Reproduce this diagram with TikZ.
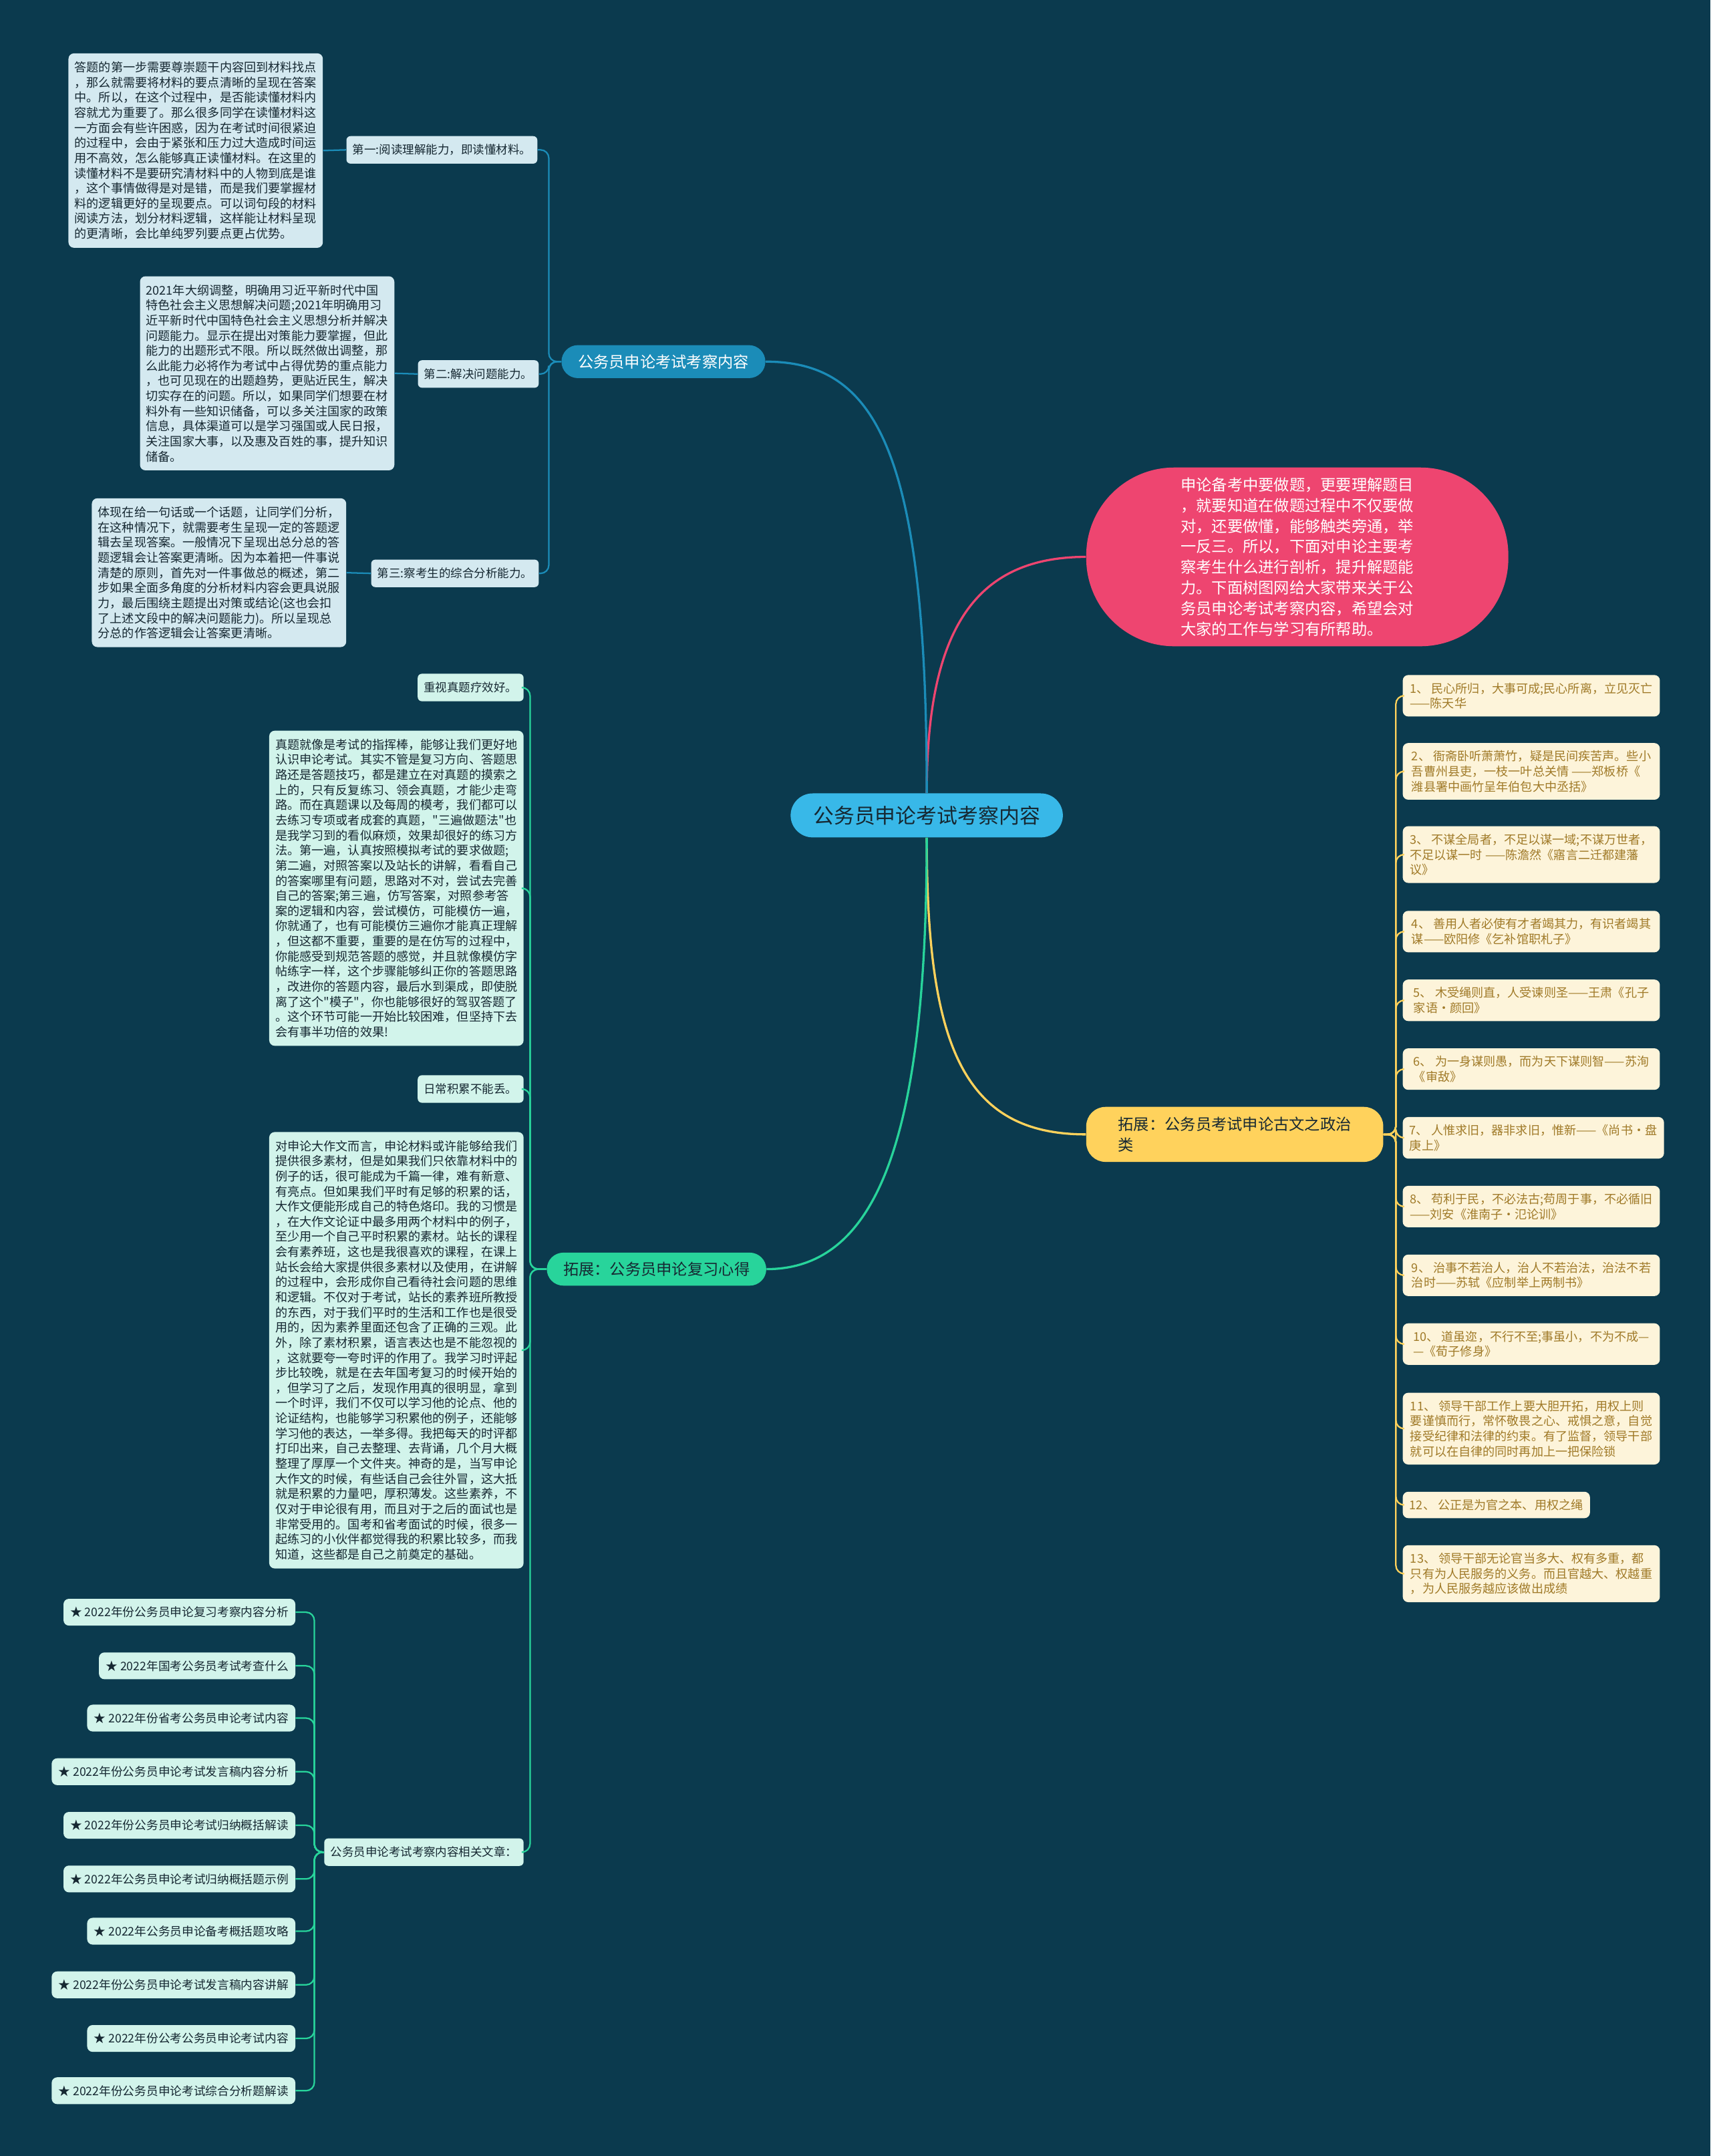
\documentclass[tikz,border=0pt]{standalone}
\usepackage{fontspec}
\usepackage{tikz}
\newfontfamily\cjk{Noto Sans CJK SC}
\definecolor{cBg}{RGB}{11,58,78}
\definecolor{cRoot}{RGB}{56,184,232}
\definecolor{cBlue}{RGB}{27,140,184}
\definecolor{cPink}{RGB}{238,69,112}
\definecolor{cGold}{RGB}{255,210,92}
\definecolor{cGreen}{RGB}{40,212,155}
\definecolor{cNoteA}{RGB}{212,233,240}
\definecolor{cNoteG}{RGB}{210,244,235}
\definecolor{cNoteY}{RGB}{253,244,218}
\definecolor{cInk}{RGB}{22,40,50}
\definecolor{cBrown}{RGB}{160,122,40}

\begin{document}
\begin{tikzpicture}[x=1pt, y=-1pt,
  every node/.style={font=\cjk, text=cInk, inner sep=0pt},
  root/.style={fill=cRoot, rounded corners=16pt, minimum width=198pt, minimum height=32pt,
    font=\cjk\fontsize{15}{18}\selectfont},
  branch/.style={fill=#1, rounded corners=12pt, minimum height=24pt, inner xsep=12pt,
    font=\cjk\fontsize{11.3}{15}\selectfont},
  tag/.style={fill=#1, rounded corners=3pt, anchor=east, inner xsep=4.5pt, minimum height=20pt,
    font=\cjk\fontsize{8.5}{10}\selectfont},
  note/.style={fill=#1, rounded corners=4pt, anchor=east, align=left, inner xsep=4.5pt,
    inner ysep=6pt, font=\cjk\fontsize{8.8}{11}\selectfont},
  quote/.style={fill=cNoteY, text=cBrown, rounded corners=4pt, anchor=west, align=left,
    inner xsep=5pt, inner ysep=5.5pt, font=\cjk\fontsize{8.8}{11}\selectfont},
  link/.style={fill=cNoteG, rounded corners=4pt, anchor=east, inner xsep=5pt,
    minimum height=19.5pt, font=\cjk\fontsize{8.6}{11}\selectfont},
  lnMain/.style={draw=#1, line width=1.6pt},
  lnSub/.style={draw=#1, line width=1.1pt, rounded corners=6pt}]
  \useasboundingbox (0,0) rectangle (1244,1568);
  \fill[cBg] (0,0) rectangle (1244,1568);

  % root
  \node[root] (ctr) at (674,593) {公务员申论考试考察内容};

  % intro (pink)
  \node[fill=cPink, text=white, rounded corners=64pt, minimum width=307pt, minimum height=130pt,
    align=left, font=\cjk\fontsize{11.3}{15}\selectfont] (intro) at (943.5,405)
    {申论备考中要做题，更要理解题目\\，就要知道在做题过程中不仅要做\\对，还要做懂，能够触类旁通，举\\一反三。所以，下面对申论主要考\\察考生什么进行剖析，提升解题能\\力。下面树图网给大家带来关于公\\务员申论考试考察内容，希望会对\\大家的工作与学习有所帮助。};
  \draw[lnMain=cPink] (ctr.north) .. controls +(0,-120) and +(-80,0) .. (intro.west);

  % exam content (blue)
  \node[branch=cBlue, text=white] (exam) at (482.5,263) {公务员申论考试考察内容};
  \draw[lnMain=cBlue] (ctr.north) .. controls +(0,-250) and +(80,0) .. (exam.east);
  \node[tag=cNoteA] (a1) at (391,109) {第一:阅读理解能力，即读懂材料。};
  \node[tag=cNoteA] (a2) at (392,272) {第二:解决问题能力。};
  \node[tag=cNoteA] (a3) at (392,417) {第三:察考生的综合分析能力。};
  \foreach \k in {a1,a2,a3}{
    \draw[lnSub=cBlue] (exam.west) -- ++(-9,0) |- (\k.east);
  }
  \node[note=cNoteA] (n1) at (235,109.5)
    {答题的第一步需要尊崇题干内容回到材料找点\\，那么就需要将材料的要点清晰的呈现在答案\\中。所以，在这个过程中，是否能读懂材料内\\容就尤为重要了。那么很多同学在读懂材料这\\一方面会有些许困惑，因为在考试时间很紧迫\\的过程中，会由于紧张和压力过大造成时间运\\用不高效，怎么能够真正读懂材料。在这里的\\读懂材料不是要研究清材料中的人物到底是谁\\，这个事情做得是对是错，而是我们要掌握材\\料的逻辑更好的呈现要点。可以词句段的材料\\阅读方法，划分材料逻辑，这样能让材料呈现\\的更清晰，会比单纯罗列要点更占优势。};
  \node[note=cNoteA] (n2) at (287,271.5)
    {2021年大纲调整，明确用习近平新时代中国\\特色社会主义思想解决问题;2021年明确用习\\近平新时代中国特色社会主义思想分析并解决\\问题能力。显示在提出对策能力要掌握，但此\\能力的出题形式不限。所以既然做出调整，那\\么此能力必将作为考试中占得优势的重点能力\\，也可见现在的出题趋势，更贴近民生，解决\\切实存在的问题。所以，如果同学们想要在材\\料外有一些知识储备，可以多关注国家的政策\\信息，具体渠道可以是学习强国或人民日报，\\关注国家大事，以及惠及百姓的事，提升知识\\储备。};
  \node[note=cNoteA] (n3) at (252,416.5)
    {体现在给一句话或一个话题，让同学们分析，\\在这种情况下，就需要考生呈现一定的答题逻\\辑去呈现答案。一般情况下呈现出总分总的答\\题逻辑会让答案更清晰。因为本着把一件事说\\清楚的原则，首先对一件事做总的概述，第二\\步如果全面多角度的分析材料内容会更具说服\\力，最后围绕主题提出对策或结论(这也会扣\\了上述文段中的解决问题能力)。所以呈现总\\分总的作答逻辑会让答案更清晰。};
  \draw[lnSub=cBlue] (a1.west) -- (n1.east);
  \draw[lnSub=cBlue] (a2.west) -- (n2.east);
  \draw[lnSub=cBlue] (a3.west) -- (n3.east);

  % ancient quotes (gold)
  \node[branch=cGold, rounded corners=14pt, minimum width=216pt, minimum height=40pt,
    align=left] (ancient) at (898,825) {拓展：公务员考试申论古文之政治\\类};
  \draw[lnMain=cGold] (ctr.south) .. controls +(0,150) and +(-90,0) .. (ancient.west);
  \foreach \y/\w/\txt [count=\i] in {
    506/187/{1、 民心所归，大事可成;民心所离，立见灭亡\\ ——陈天华},
    561/187/{2、 衙斋卧听萧萧竹，疑是民间疾苦声。些小\\吾曹州县吏，一枝一叶总关情 ——郑板桥《\\潍县署中画竹呈年伯包大中丞括》},
    621.5/187/{3、 不谋全局者，不足以谋一域;不谋万世者，\\不足以谋一时 ——陈澹然《寤言二迁都建藩\\议》},
    677.5/187/{4、 善用人者必使有才者竭其力，有识者竭其\\谋——欧阳修《乞补馆职札子》},
    727.5/187/{5、 木受绳则直，人受谏则圣——王肃《孔子\\家语·颜回》},
    777.5/187/{6、 为一身谋则愚，而为天下谋则智——苏洵\\《审敌》},
    827.5/187/{7、 人惟求旧，器非求旧，惟新——《尚书·盘\\庚上》},
    877.5/187/{8、 苟利于民，不必法古;苟周于事，不必循旧\\——刘安《淮南子·氾论训》},
    927.5/187/{9、 治事不若治人，治人不若治法，治法不若\\治时——苏轼《应制举上两制书》},
    977.5/187/{10、 道虽迩，不行不至;事虽小，不为不成—\\—《荀子修身》},
    1039/187/{11、 领导干部工作上要大胆开拓，用权上则\\要谨慎而行，常怀敬畏之心、戒惧之意，自觉\\接受纪律和法律的约束。有了监督，领导干部\\就可以在自律的同时再加上一把保险锁},
    1094.5/0/{12、 公正是为官之本、用权之绳},
    1144.5/187/{13、 领导干部无论官当多大、权有多重，都\\只有为人民服务的义务。而且官越大、权越重\\，为人民服务越应该做出成绩}}{
    \node[quote, minimum width=\w pt] (q\i) at (1020,\y) {\txt};
    \draw[lnSub=cGold] (ancient.east) -- ++(9,0) |- (q\i.west);
  }

  % study tips (green)
  \node[branch=cGreen] (tips) at (477.5,923) {拓展：公务员申论复习心得};
  \draw[lnMain=cGreen] (ctr.south) .. controls +(0,220) and +(80,0) .. (tips.east);
  \node[tag=cNoteG] (d1) at (381,500) {重视真题疗效好。};
  \node[note=cNoteG] (d2) at (381,646)
    {真题就像是考试的指挥棒，能够让我们更好地\\认识申论考试。其实不管是复习方向、答题思\\路还是答题技巧，都是建立在对真题的摸索之\\上的，只有反复练习、领会真题，才能少走弯\\路。而在真题课以及每周的模考，我们都可以\\去练习专项或者成套的真题，"三遍做题法"也\\是我学习到的看似麻烦，效果却很好的练习方\\法。第一遍，认真按照模拟考试的要求做题;\\第二遍，对照答案以及站长的讲解，看看自己\\的答案哪里有问题，思路对不对，尝试去完善\\自己的答案;第三遍，仿写答案，对照参考答\\案的逻辑和内容，尝试模仿，可能模仿一遍，\\你就通了，也有可能模仿三遍你才能真正理解\\，但这都不重要，重要的是在仿写的过程中，\\你能感受到规范答题的感觉，并且就像模仿字\\帖练字一样，这个步骤能够纠正你的答题思路\\，改进你的答题内容，最后水到渠成，即使脱\\离了这个"模子"，你也能够很好的驾驭答题了\\。这个环节可能一开始比较困难，但坚持下去\\会有事半功倍的效果!};
  \node[tag=cNoteG] (d3) at (381,792) {日常积累不能丢。};
  \node[note=cNoteG] (d4) at (381,982)
    {对申论大作文而言，申论材料或许能够给我们\\提供很多素材，但是如果我们只依靠材料中的\\例子的话，很可能成为千篇一律，难有新意、\\有亮点。但如果我们平时有足够的积累的话，\\大作文便能形成自己的特色烙印。我的习惯是\\，在大作文论证中最多用两个材料中的例子，\\至少用一个自己平时积累的素材。站长的课程\\会有素养班，这也是我很喜欢的课程，在课上\\站长会给大家提供很多素材以及使用，在讲解\\的过程中，会形成你自己看待社会问题的思维\\和逻辑。不仅对于考试，站长的素养班所教授\\的东西，对于我们平时的生活和工作也是很受\\用的，因为素养里面还包含了正确的三观。此\\外，除了素材积累，语言表达也是不能忽视的\\，这就要夸一夸时评的作用了。我学习时评起\\步比较晚，就是在去年国考复习的时候开始的\\，但学习了之后，发现作用真的很明显，拿到\\一个时评，我们不仅可以学习他的论点、他的\\论证结构，也能够学习积累他的例子，还能够\\学习他的表达，一举多得。我把每天的时评都\\打印出来，自己去整理、去背诵，几个月大概\\整理了厚厚一个文件夹。神奇的是，当写申论\\大作文的时候，有些话自己会往外冒，这大抵\\就是积累的力量吧，厚积薄发。这些素养，不\\仅对于申论很有用，而且对于之后的面试也是\\非常受用的。国考和省考面试的时候，很多一\\起练习的小伙伴都觉得我的积累比较多，而我\\知道，这些都是自己之前奠定的基础。};
  \node[tag=cNoteG] (rel) at (381,1347) {公务员申论考试考察内容相关文章：};
  \foreach \k in {d1,d2,d3,d4,rel}{
    \draw[lnSub=cGreen] (tips.west) -- ++(-12,0) |- (\k.east);
  }
  % related articles
  \foreach \y/\txt [count=\i] in {
    1172.5/{★ 2022年份公务员申论复习考察内容分析},
    1211.5/{★ 2022年国考公务员考试考查什么},
    1249.5/{★ 2022年份省考公务员申论考试内容},
    1288.5/{★ 2022年份公务员申论考试发言稿内容分析},
    1327.5/{★ 2022年份公务员申论考试归纳概括解读},
    1366.5/{★ 2022年公务员申论考试归纳概括题示例},
    1404.5/{★ 2022年公务员申论备考概括题攻略},
    1443.5/{★ 2022年份公务员申论考试发言稿内容讲解},
    1482.5/{★ 2022年份公考公务员申论考试内容},
    1520.5/{★ 2022年份公务员申论考试综合分析题解读}}{
    \node[link] (l\i) at (215,\y) {\txt};
    \draw[lnSub=cGreen] (rel.west) -- ++(-7,0) |- (l\i.east);
  }
\end{tikzpicture}
\end{document}
